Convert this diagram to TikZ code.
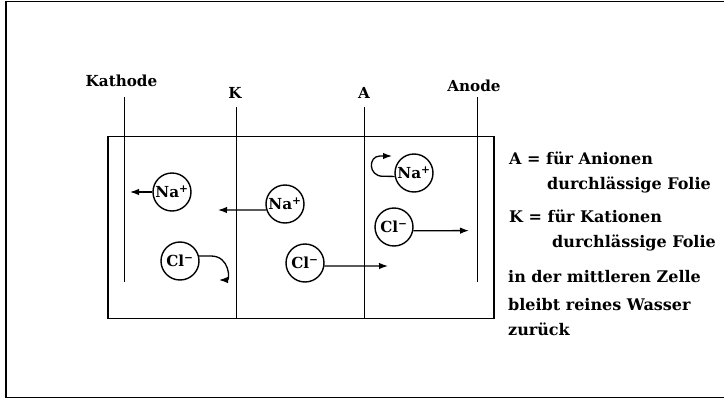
\documentclass[tikz,border=0pt]{standalone}
\usepackage{fontspec}
\setmainfont{DejaVu Serif}
\usetikzlibrary{arrows.meta}
\begin{document}
\begin{tikzpicture}[x=1pt,y=-1pt,
  ion/.style={circle,draw,line width=1.4pt,minimum size=38pt,inner sep=0pt,font=\fontsize{15.2}{17}\selectfont\bfseries},
  lbl/.style={font=\fontsize{15.2}{18}\selectfont\bfseries,inner sep=0pt,anchor=base},
  txt/.style={font=\fontsize{16}{19}\selectfont\bfseries,inner sep=0pt,anchor=base west},
  wall/.style={line width=1.4pt},
  arr/.style={line width=1.3pt,-{Latex[length=9pt,width=6.5pt]}}]
\useasboundingbox (0,0) rectangle (724,399);
% outer frame
\draw[line width=1.4pt] (724,1.5) -- (6,1.5) -- (6,397.5) -- (724,397.5);
% tank
\draw[line width=1.7pt] (108,136.5) rectangle (494,318.5);
% labels
\node[lbl] (kath) at (121.5,86.5) {Kathode};
\node[lbl] (klab) at (235,98.5) {K};
\node[lbl] (alab) at (364,98.5) {A};
\node[lbl] (anod) at (474,91.5) {Anode};
% electrodes and membranes
\coordinate (kathT) at (124.7,97);
\coordinate (kathB) at (124.7,282);
\coordinate (kT) at (236.3,107);
\coordinate (kB) at (236.3,318.5);
\coordinate (aT) at (364.5,107);
\coordinate (aB) at (364.5,318.5);
\coordinate (anT) at (477.5,97);
\coordinate (anB) at (477.5,282);
\draw[wall] (kathT) -- (kathB);
\draw[wall] (kT) -- (kB);
\draw[wall] (aT) -- (aB);
\draw[wall] (anT) -- (anB);
% ions
\node[ion] (na1) at (172,192) {Na\textsuperscript{+}};
\node[ion] (na2) at (285,204) {Na\textsuperscript{+}};
\node[ion] (cl1) at (180,261) {Cl\textsuperscript{−}};
\node[ion] (cl2) at (305,263) {Cl\textsuperscript{−}};
\node[ion] (cl3) at (394,227) {Cl\textsuperscript{−}};
\node[ion] (na3) at (414,173) {Na\textsuperscript{+}};
% arrows
\coordinate (t1) at (130,192);
\coordinate (t2) at (218,210);
\coordinate (t3) at (388,266);
\coordinate (t4) at (469,230.6);
\coordinate (h1) at (219,280);
\coordinate (h2) at (392,156);
\draw[arr] (na1.west) -- (t1);
\draw[arr] (na2.198) -- (t2);
\draw[arr] (cl2.351) -- (t3);
\draw[arr] (cl3.349) -- (t4);
\draw[arr] (cl1.15) -- (211,256) .. controls (230,256) and (230,280) .. (h1);
\draw[arr] (na3.190) -- (383,176.3) .. controls (368,176.3) and (368,156) .. (380,156) -- (h2);
% legend
\node[txt] (l1) at (509,164) {A = für Anionen};
\node[txt] (l2) at (547,189.3) {durchlässige Folie};
\node[txt] (l3) at (509,222.3) {K = für Kationen};
\node[txt] (l4) at (552,247.3) {durchlässige Folie};
\node[txt] (l5) at (508,282.7) {in der mittleren Zelle};
\node[txt] (l6) at (508,310) {bleibt reines Wasser};
\node[txt] (l7) at (508,335) {zurück};
\end{tikzpicture}
\end{document}
